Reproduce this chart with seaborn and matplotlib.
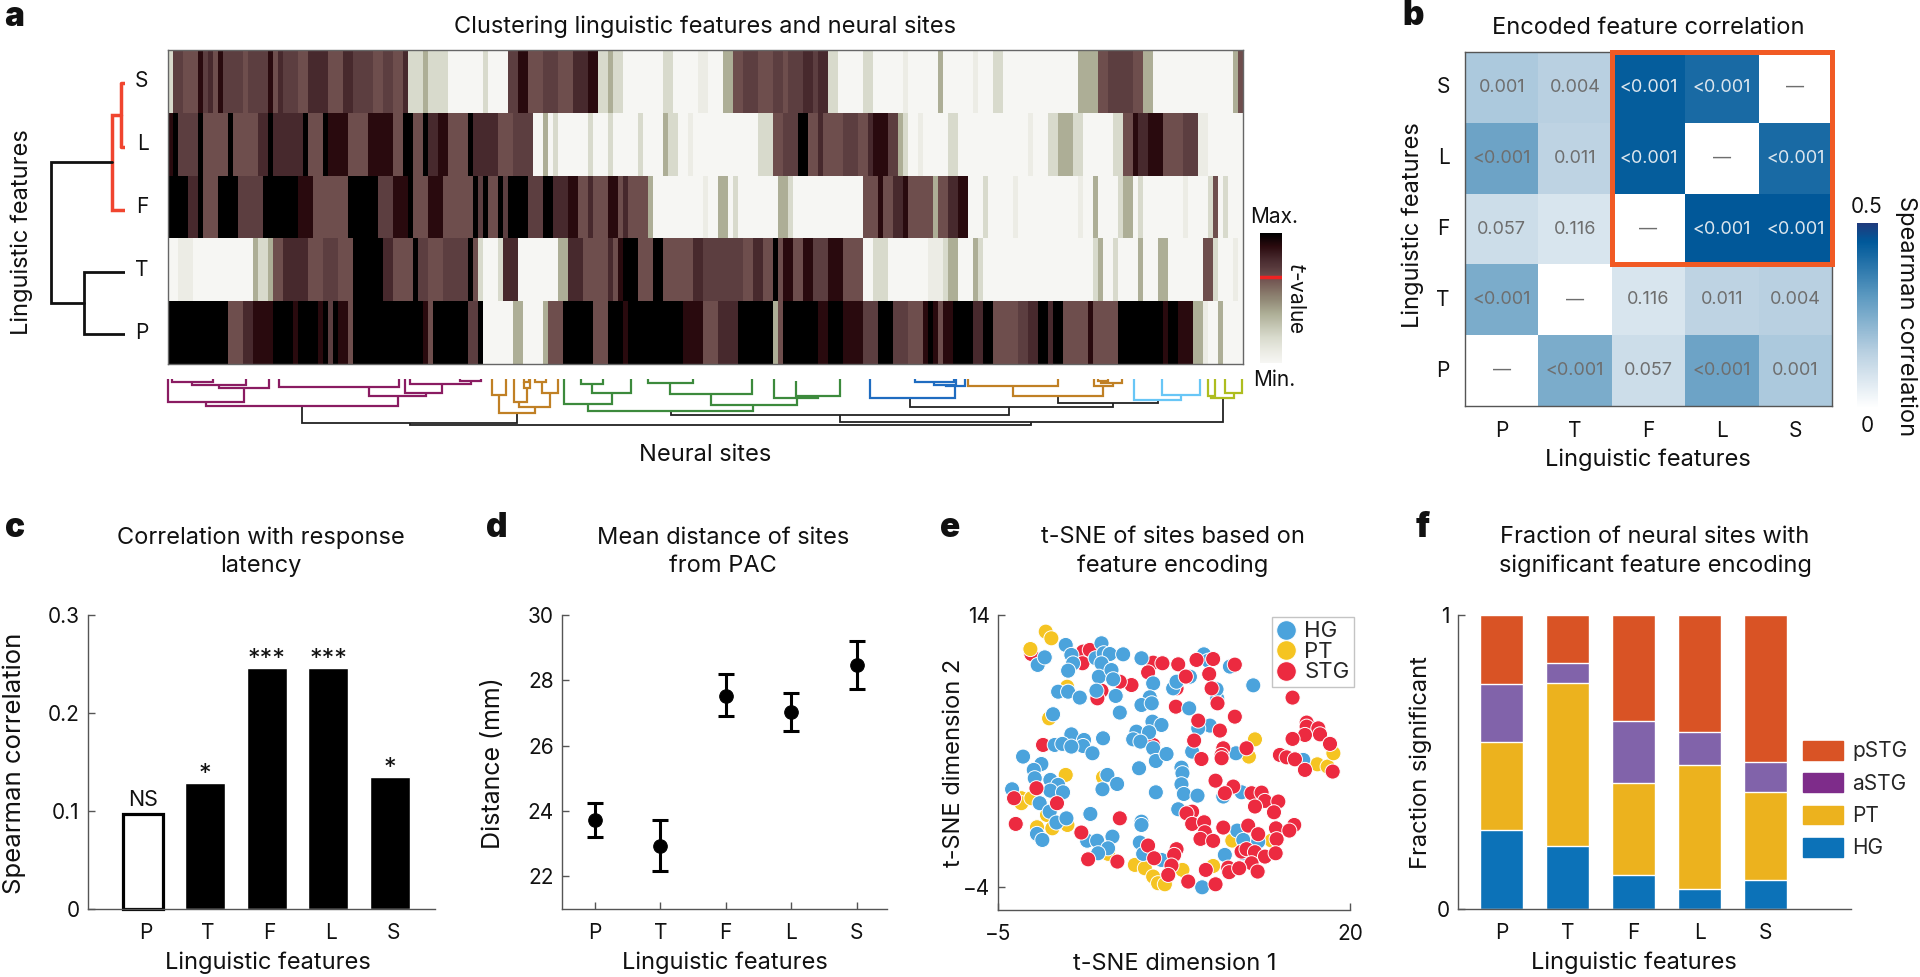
import numpy as np
import pandas as pd
import matplotlib as mpl
import matplotlib.pyplot as plt
from matplotlib.colors import LinearSegmentedColormap
from matplotlib.patches import Patch, Rectangle
from matplotlib.transforms import ScaledTranslation
import seaborn as sns

W, H = 1920, 977
sns.set_theme(style="ticks")
plt.rcParams["font.family"] = ["Inter", "DejaVu Sans"]
plt.rcParams["axes.edgecolor"] = "#555555"
plt.rcParams["axes.linewidth"] = 1.0
plt.rcParams["xtick.color"] = "#555555"
plt.rcParams["ytick.color"] = "#555555"
plt.rcParams["xtick.labelcolor"] = "#111111"
plt.rcParams["ytick.labelcolor"] = "#111111"

FS = 17
TICK_FS = 15
features = ["P", "T", "F", "L", "S"]
rows_a = ["S", "L", "F", "T", "P"]

##########################
# a: t-value per site, runs as <level code><last site>

level_codes = {"W": 0.0, "w": 0.08, "g": 0.2, "G": 0.38, "M": 0.66,
               "m": 0.72, "d": 0.8, "D": 0.9, "K": 1.0}

row_S = """g1 m3 M6 D7 m8 d9 M10 D11 m15 M16 m20 D21 M22 d23 m26 M28 d32 M35 d37 m41 M43 m45 M47 d48
g51 G52 g56 W63 g64 W68 m70 D72 M75 m78 M81 d84 D86 g88 G89 g91 W99 g101 W106 w108 W111 G113 M115 m118
M121 m123 M124 m127 d129 m130 d132 g134 W139 g141 W147 w148 W154 G155 W161 w162 W165 g167 W182 G186
M188 m190 m193 M195 G197 W213 G214 M215"""
row_L = """D1 K2 m4 m6 K7 M12 K13 M18 d20 K21 d27 K28 M31 K32 D36 M40 D45 M47 K49 M51 K52 d54 D56 M60 K61 d66
M69 m73 W75 G76 W77 g78 W84 g85 W88 g89 W94 g95 W99 G100 g102 W104 w105 W118 g121 M123 m126 K128 M130
d131 M135 m138 M140 d141 D144 m146 G147 g148 W150 w151 W156 g158 W172 w173 W176 g178 G181 g183 W189
g191 M193 D194 d196 D199 M203 m206 w208 W215"""
row_F = """K4 d6 K7 M10 K14 m19 K26 D29 M36 K42 m45 D48 K49 M52 D55 M61 K62 m63 K64 M66 K67 m68 K72 m75 K77 d80
D82 M84 d85 M88 D90 M91 d92 M96 G97 W107 w108 W110 G112 W113 g114 W122 G124 g125 W139 M142 D143 M145
d147 D148 M153 G154 M156 d158 D160 W163 g164 W169 w170 W182 w183 W185 G186 W190 g191 G193 W194 g195
W203 w204 W208 g209 M210 W211 g212 W215"""
row_T = """W2 w5 W17 G18 g20 G21 M23 d28 M31 m34 M37 K43 d45 M49 K50 m52 M55 m60 K61 M62 g63 W66 g67 d70 W78
G80 d83 M88 d89 M90 D91 K94 M97 K99 M105 d107 m115 M117 d119 M121 K122 M123 D125 M127 D129 m132 D135
M139 W141 g144 W152 w155 g156 G158 W161 G162 g163 W185 g186 G187 W189 g190 W194 G195 W198 G200 W207
M209 g210 W213 w214 W215"""
row_P = """K12 M15 d17 D21 K25 D26 K30 D31 K32 m33 K34 D36 M37 K51 D52 M53 K60 m62 K63 W69 G71 W75 G76 M79 K85
M88 K91 D92 K103 D107 M110 d114 K121 G122 M123 K130 D132 K135 D139 m142 K145 m148 M151 D152 K153 D154
M155 D157 K161 d163 K165 M170 m172 d174 K176 d177 K179 M184 D185 M190 K199 D200 K202 D205 G207 w208
W210 G211 W215"""

# site dendrogram links: left site, right site, left height, right height, join height
links_maroon = [(0.7, 8.9, 0, 0, 2.7), (4.7, 15.6, 2.7, 0, 6), (10.1, 20.1, 6, 0, 9.3), (0, 15.1, 0, 9.3, 23.3),
                (22.1, 46.2, 0, 0, 8), (40.2, 51.5, 8, 14.3, 17.3), (47.4, 54.7, 0, 5.3, 14.3),
                (48.3, 60.5, 0, 2, 5.3), (58.4, 62.5, 0, 0, 2), (7.5, 45.9, 23.3, 17.3, 26.7)]
links_ochre = [(64.7, 67.5, 0, 0, 16), (71.2, 72.2, 0, 0, 2.7), (71.1, 72.3, 2.7, 0, 9.3), (69.1, 71.7, 0, 9.3, 22.7),
               (73.4, 75.5, 0, 0, 2.7), (74.7, 78, 2.7, 0, 14.3), (70.2, 76.4, 22.7, 14.3, 27.7),
               (66.2, 73.4, 16, 27.7, 34.3),
               (160, 178, 0, 0, 6.7), (186, 188, 0, 0, 2), (186.5, 190.7, 2, 0, 4.3), (185.2, 189, 0, 4.3, 7),
               (169, 187, 6.7, 7, 16.7)]
links_green = [(82.6, 87, 0, 0, 5.3), (84.7, 92.6, 5.3, 0, 14.3), (79.1, 88.7, 0, 14.3, 25),
               (96, 104.9, 0, 0, 4.3), (100.4, 116.7, 4.3, 0, 15.3), (125.5, 134.4, 2, 0, 16.7),
               (121.1, 130, 0, 16.7, 19.3), (108.5, 125.7, 15.3, 19.3, 26), (83.9, 117, 25, 26, 32)]
links_blue = [(149.4, 157.1, 0, 0, 3.3), (153.2, 157.5, 3.3, 0, 5.5), (155.5, 159.3, 5.5, 0, 6.7),
              (140.3, 157.3, 0, 6.7, 18.7)]
links_sky = [(198.7, 206.3, 0, 0, 16), (193.1, 202.6, 0, 16, 21)]
links_lime = [(207.9, 209.4, 0, 0, 17), (211.4, 214.7, 0, 0, 13.7), (208.6, 213.1, 17, 13.7, 19.3)]
links_black = [(178, 197.9, 16.7, 21, 24.3), (148.3, 188.9, 18.7, 24.3, 27.7), (100.5, 168.2, 32, 27.7, 36),
               (134.3, 210.9, 36, 19.3, 42.7), (26.7, 69.7, 26.7, 34.3, 43.7), (48.3, 172.5, 43.7, 42.7, 46)]

##########################
# b: Spearman correlation and p-value text

corr_b = [[0.17, 0.15, 0.44, 0.41, 0.0],
          [0.275, 0.14, 0.44, 0.0, 0.41],
          [0.11, 0.085, 0.0, 0.45, 0.45],
          [0.25, 0.0, 0.085, 0.14, 0.15],
          [0.0, 0.25, 0.11, 0.275, 0.17]]
pvals_b = [["0.001", "0.004", "<0.001", "<0.001", "—"],
           ["<0.001", "0.011", "<0.001", "—", "<0.001"],
           ["0.057", "0.116", "—", "<0.001", "<0.001"],
           ["<0.001", "—", "0.116", "0.011", "0.004"],
           ["—", "<0.001", "0.057", "<0.001", "0.001"]]

##########################
# c, d, f

corr_latency = [0.097, 0.129, 0.246, 0.246, 0.135]
sig_latency = ["NS", "*", "***", "***", "*"]
dist_mean = [23.73, 22.92, 27.53, 27.04, 28.46]
dist_low = [23.2, 22.17, 26.9, 26.45, 27.73]
dist_high = [24.25, 23.72, 28.2, 27.6, 29.2]

frac_HG = [0.27, 0.213, 0.117, 0.068, 0.10]
frac_PT = [0.297, 0.556, 0.311, 0.422, 0.299]
frac_aSTG = [0.199, 0.069, 0.211, 0.112, 0.101]
frac_pSTG = [0.234, 0.162, 0.361, 0.398, 0.50]

##########################
# e: t-SNE coordinates

hg_x = [-0.19, 0.21, 0.33, -0.02, -2.18, -1.68, 1.94, 2.35, 2.51, 2.94, 2.35, 3.89, 2.16, 3.06, 3.18, 1.99, 5.19, 6.02,
        5.78, 5.19, 5.92, 3.36, 3.65, -0.73, -0.02, 0.81, 7.44, 7.68, 8.63, 9.62, 9.93, 11.47, 13.13, 10.57, 10.52, 8.58,
        -1.09, 5.97, 6.61, 4.83, 5.73, 4.60, 5.12, 0.21, 1.11, 1.04, 2.46, -0.97, -0.43, 0.21, 1.71, -3.22, -1.92, -2.46,
        -2.39, -1.28, -0.73, -1.28, -0.38, -4.0, -2.04, -1.33, -0.85, -0.14, 1.56, 2.42, 2.77, 3.46, 5.02, 6.02, 6.21, 6.97,
        8.79, 8.03, 8.10, 8.03, 8.2, 9.17, 6.21, 7.80, 10.05, 9.22, 11.9, 12.3, 11.0, 5.19, 5.19, -2.23, -1.85, 1.33, 2.04,
        3.13, 2.82, 2.11, 5.07, 5.31, 6.61, 11.11, 11.99, 12.42, 13.48, 9.5, 12.42, 16.68]
hg_y = [12.02, 11.36, 10.80, 10.32, 10.70, 11.20, 11.14, 12.13, 11.47, 11.42, 10.80, 11.40, 9.92, 10.36, 9.75, 9.00, 11.14,
        9.48, 8.56, 8.05, 8.16, 8.65, 7.55, 8.93, 8.93, 8.54, 9.15, 9.59, 9.92, 11.40, 10.98, 10.59, 9.35, 8.49, 9.09, 7.83,
        7.44, 6.95, 6.73, 6.29, 6.25, 5.78, 5.63, 6.11, 5.74, 5.34, 5.85, 5.41, 5.48, 5.30, 4.86, 4.64, 4.15, 3.76, 3.21,
        3.10, 2.77, 2.39, 2.28, 2.48, 1.56, 1.0, 0.28, 0.56, 0.85, 2.48, 3.43, 2.83, 3.87, 5.19, 4.35, 4.81, 4.97, 3.91,
        3.54, 2.81, 2.17, 2.06, 2.28, 1.16, 6.69, 6.51, 4.86, 2.28, 2.0, 0.34, 0.12, -0.47, -0.87, -0.92, -0.92, -0.65,
        -1.42, -1.75, -1.04, -1.79, -2.19, -1.86, -0.25, -0.87, -0.98, -4.0, -1.75, 4.42]
pt_x = [-1.61, -1.21, -2.7, -0.09, -1.37, 13.25, 12.82, -0.19, 2.46, -3.34, -3.34, -2.63, -1.52, -2.23, -1.14, -0.07,
        4.72, 5.43, 6.02, 6.37, 6.85, 8.1, 10.28, 11.64, 14.43, 2.82, 17.68, 18.41, 18.82]
pt_y = [12.9, 12.46, 11.75, 9.26, 7.17, 5.78, 4.64, 3.43, 3.27, 1.89, 1.56, 1.89, 0.78, -0.03, -0.1, 0.12,
        -2.52, -2.74, -3.29, -3.73, -3.8, -2.85, -2.59, -0.91, -0.91, -1.79, 4.13, 3.98, 4.86]
stg_x = [-2.63, 1.04, 1.52, 1.0, 6.02, 6.68, 5.66, 7.8, 9.1, 10.28, 8.34, 10.0, 11.82, 4.48, 3.65, 2.35, 2.06, 7.68, 10.17,
         7.63, 10.59, 15.92, 11.82, 9.22, 10.76, 16.92, 16.92, 17.75, 16.8, 17.87, 15.92, 18.58, -1.8, 8.93, 6.02, 11.0,
         10.88, 10.88, 12.65, 9.45, 15.02, 15.5, 16.09, 16.8, 18.77, 10.45, 11.71, 11.11, -2.27, -3.86, -0.81, 13.01, 13.72,
         13.96, 13.25, 14.91, 14.6, 8.79, 8.39, 3.65, 8.79, 9.64, -3.74, 11.0, 12.77, 9.69, 9.38, 10.28, 13.48, 14.74, 16.04,
         15.69, 14.79, 0.92, 5.66, 6.09, 7.68, 7.51, 7.32, 7.09, 1.4, 3.48, 12.3, 12.65, 13.25, 13.96, 14.72, 13.01, 11.35,
         11.42, 12.13, 13.44, 9.76, 8.51, 10.45]
stg_y = [11.42, 11.58, 11.69, 10.81, 10.85, 10.81, 10.21, 10.74, 11.03, 11.09, 9.93, 10.1, 10.72, 9.37, 9.59, 9.0, 8.49, 9.15,
         9.15, 7.94, 8.16, 8.54, 7.28, 7.02, 6.36, 6.89, 6.62, 6.51, 6.07, 6.11, 5.81, 5.48, 5.41, 5.7, 5.41, 5.19, 4.75,
         4.53, 5.19, 4.48, 4.75, 4.59, 4.46, 3.76, 3.65, 3.05, 2.66, 2.22, 2.55, 1.89, 1.56, 2.22, 2.26, 1.71, 1.34, 1.67,
         0.96, 1.0, 0.89, 0.56, 0.19, 0.3, 0.19, -0.05, 0.08, -0.36, -0.8, -0.93, -0.49, -0.1, 0.12, -0.25, -0.82, -0.38,
         -1.24, -2.08, -1.48, -1.86, -2.56, -3.18, -2.15, -2.3, -1.64, -1.48, -1.68, -1.97, -1.75, -2.41, -2.7, -3.0, -2.74,
         -2.96, -2.85, -3.62, -3.8]

##########################

fig = plt.figure(figsize=(W / 100, H / 100), dpi=100)
fig.patch.set_facecolor("white")


def add_ax(x0, y0, x1, y1):
    return fig.add_axes([x0 / W, 1 - y1 / H, (x1 - x0) / W, (y1 - y0) / H])


def put(x, y, s, size=FS, **kw):
    kw.setdefault("ha", "center")
    kw.setdefault("va", "center")
    kw.setdefault("color", "#111111")
    fig.text(x / W, 1 - y / H, s, fontsize=size, **kw)


def expand(runs):
    vals = []
    start = 0
    for t in runs.split():
        end = int(t[1:])
        vals += [level_codes[t[0]]] * (end - start)
        start = end
    return vals


def draw_links(ax, links, color, lw):
    for l, r, hl, hr, h in links:
        ax.plot([l, l, r, r], [hl, h, h, hr], color=color, lw=lw, clip_on=False,
                solid_joinstyle="miter", solid_capstyle="butt")


# panel a
tvalue_cmap = LinearSegmentedColormap.from_list("tvalue", [
    (0, "#f6f6f3"), (0.08, "#ecece5"), (0.2, "#d8dacc"), (0.38, "#adae96"), (0.5, "#8f8573"),
    (0.66, "#6e4e4d"), (0.72, "#5c3e40"), (0.8, "#47292d"), (0.9, "#2a0a0e"), (1, "#000000")])
heat_a = pd.DataFrame([expand(r) for r in [row_S, row_L, row_F, row_T, row_P]], index=rows_a)
ax_a = add_ax(168, 50, 1243, 364)
cax_a = add_ax(1260, 233, 1282, 363)
sns.heatmap(heat_a, ax=ax_a, cmap=tvalue_cmap, vmin=0, vmax=1, xticklabels=False, yticklabels=True,
            cbar_ax=cax_a, rasterized=True)
for s in ax_a.spines.values():
    s.set_visible(True)
    s.set_color("#666666")
ax_a.set_ylabel("")
ax_a.tick_params(axis="y", length=2.5, direction="in", pad=14, labelsize=TICK_FS, labelrotation=0)
cax_a.set_yticks([])
cax_a.tick_params(length=0)
cax_a.axhline(0.66, color="#ee2222", lw=2.5)
ax_a.collections[0].colorbar.outline.set_visible(True)
ax_a.collections[0].colorbar.outline.set_edgecolor("#333333")

put(705, 27, "Clustering linguistic features and neural sites")
put(22, 232, "Linguistic features", rotation=90)
put(1274, 217, "Max.", size=TICK_FS)
put(1274, 380, "Min.", size=TICK_FS)
put(1296, 298, "$\\mathit{t}$-value", size=TICK_FS, rotation=270)
put(705, 455, "Neural sites")

# feature dendrogram on the left
ax_rd = add_ax(40, 50, 125, 364)
ax_rd.set_xlim(85, 0)
ax_rd.set_ylim(5, 0)
ax_rd.axis("off")
link_red = "#f0452f"
ax_rd.plot([4.5, 4.5], [0.52, 1.55], color=link_red, lw=2.5, solid_capstyle="butt")
ax_rd.plot([0, 4.5], [0.52, 0.52], color=link_red, lw=2.5)
ax_rd.plot([0, 4.5], [1.55, 1.55], color=link_red, lw=2.5)
ax_rd.plot([4.5, 13.4, 13.4, 0], [1.03, 1.03, 2.55, 2.55], color=link_red, lw=2.5, solid_joinstyle="miter")
ax_rd.plot([0, 41.5, 41.5, 0], [3.54, 3.54, 4.53, 4.53], color="#111111", lw=2, solid_joinstyle="miter")
ax_rd.plot([13.4, 74, 74, 41.5], [1.79, 1.79, 4.03, 4.03], color="#111111", lw=2, solid_joinstyle="miter")

# site dendrogram below
ax_cd = add_ax(168, 379, 1243, 430)
ax_cd.set_xlim(0, 215)
ax_cd.set_ylim(51, 0)
ax_cd.axis("off")
draw_links(ax_cd, links_black, "#222222", 1.3)
draw_links(ax_cd, links_maroon, "#8a1c62", 1.6)
draw_links(ax_cd, links_ochre, "#c08025", 1.6)
draw_links(ax_cd, links_green, "#3c8a3c", 1.6)
draw_links(ax_cd, links_blue, "#1f6cc0", 1.6)
draw_links(ax_cd, links_sky, "#68c6f6", 1.6)
draw_links(ax_cd, links_lime, "#aebd1f", 1.6)

# panel b
corr_cmap = LinearSegmentedColormap.from_list("corr", [
    (0, "#ffffff"), (0.3, "#b9d0e1"), (0.6, "#5d9ac1"), (0.9, "#00599a"), (1, "#1f3a7c")])
ax_b = add_ax(1465, 52, 1832, 406)
cax_b = add_ax(1857, 223, 1878, 408)
sns.heatmap(pd.DataFrame(corr_b, index=rows_a, columns=features), ax=ax_b, cmap=corr_cmap, vmin=0, vmax=0.5,
            annot=np.array(pvals_b), fmt="", annot_kws={"size": 13}, cbar_ax=cax_b)
for t, v in zip(ax_b.texts, np.array(corr_b).ravel()):
    t.set_color("#dce6ee" if v > 0.35 else "#6e6e6e")
for s in ax_b.spines.values():
    s.set_visible(True)
    s.set_color("#555555")
ax_b.tick_params(length=0, labelsize=TICK_FS, labelrotation=0)
ax_b.tick_params(axis="x", pad=11)
ax_b.tick_params(axis="y", pad=11)
ax_b.add_patch(Rectangle((2, 0), 3, 3, fill=False, edgecolor="#f15a24", lw=3.6, clip_on=False, zorder=5,
                         joinstyle="miter"))
cax_b.set_yticks([])
cax_b.tick_params(length=0)
ax_b.collections[0].colorbar.outline.set_visible(True)
ax_b.collections[0].colorbar.outline.set_edgecolor("#333333")
put(1648, 28, "Encoded feature correlation")
put(1648, 460, "Linguistic features")
put(1413, 225, "Linguistic features", rotation=90)
put(1867, 207, "0.5", size=TICK_FS)
put(1867, 426, "0", size=TICK_FS)
put(1906, 316, "Spearman correlation", rotation=270)


def clean_axis(ax):
    sns.despine(ax=ax)
    ax.set_xlabel("")
    ax.set_ylabel("")
    ax.tick_params(direction="in", length=5, width=1, labelsize=TICK_FS)
    ax.tick_params(axis="x", pad=10)
    ax.tick_params(axis="y", pad=6)


# panel c
ax_c = add_ax(88, 615, 435, 909)
sns.barplot(x=features, y=corr_latency, hue=features, palette=["white", "black", "black", "black", "black"],
            legend=False, width=0.65, ax=ax_c, order=features)
ax_c.patches[0].set_edgecolor("black")
ax_c.patches[0].set_linewidth(2.3)
ax_c.patches[0].set_clip_on(False)
ax_c.set_xlim(-0.89, 4.725)
ax_c.set_ylim(0, 0.3)
ax_c.set_yticks([0, 0.1, 0.2, 0.3], ["0", "0.1", "0.2", "0.3"])
clean_axis(ax_c)
for lab in ax_c.get_xticklabels():
    lab.set_transform(lab.get_transform() + ScaledTranslation(3 / 100, 0, fig.dpi_scale_trans))
for i, s in enumerate(sig_latency):
    ax_c.text(i, corr_latency[i] + (0.004 if s == "NS" else -0.003), s, ha="center", va="bottom",
              fontsize=TICK_FS + 0.5 if s == "NS" else FS + 1, color="#111111")
put(261, 538, "Correlation with response")
put(261, 566, "latency")
put(268, 963, "Linguistic features")
put(14, 763, "Spearman correlation", size=18.5, rotation=90)

# panel d
ax_d = add_ax(562, 615, 887, 909)
sns.scatterplot(x=features, y=dist_mean, color="black", s=95, edgecolor="black", ax=ax_d, zorder=3)
ax_d.errorbar(features, dist_mean,
              yerr=[np.array(dist_mean) - np.array(dist_low), np.array(dist_high) - np.array(dist_mean)],
              fmt="none", ecolor="black", elinewidth=2.2, capsize=5.5, capthick=2.2)
ax_d.set_xlim(-0.5, 4.46)
ax_d.set_ylim(21, 30)
ax_d.set_yticks([22, 24, 26, 28, 30])
clean_axis(ax_d)
put(723, 538, "Mean distance of sites")
put(723, 566, "from PAC")
put(725, 963, "Linguistic features")
put(494, 763, "Distance (mm)", size=18, rotation=90)

# panel e
df_hg = pd.DataFrame({"x": hg_x, "y": hg_y, "area": "HG"})
df_pt = pd.DataFrame({"x": pt_x, "y": pt_y, "area": "PT"})
df_stg = pd.DataFrame({"x": stg_x, "y": stg_y, "area": "STG"})
stg_over = (df_stg.x > 8) | (df_stg.y < 4)
df_e = pd.concat([df_stg[~stg_over], df_pt, df_hg, df_stg[stg_over]])
ax_e = add_ax(998, 615, 1350, 910)
sns.scatterplot(data=df_e, x="x", y="y", hue="area", hue_order=["HG", "PT", "STG"],
                palette={"HG": "#4ba3dc", "PT": "#f5c422", "STG": "#ec2a40"},
                s=118, edgecolor="white", linewidth=0.7, ax=ax_e, clip_on=False)
ax_e.set_xlim(-5, 20)
ax_e.set_ylim(-5.5, 14)
ax_e.set_xticks([-5, 20], ["−5", "20"])
ax_e.set_yticks([-4, 14], ["−4", "14"])
clean_axis(ax_e)
sns.move_legend(ax_e, "upper left", bbox_to_anchor=(1272 / W, 1 - 617 / H), bbox_transform=fig.transFigure,
                borderaxespad=0, frameon=True, fancybox=False, edgecolor="#c4c4c4", framealpha=1, title=None,
                fontsize=TICK_FS + 1, labelspacing=0.02, handlelength=0.9, handletextpad=0.35, borderpad=0.2,
                markerscale=1.3)
put(1173, 537, "t-SNE of sites based on")
put(1173, 566, "feature encoding")
put(1175, 964, "t-SNE dimension 1")
put(954, 763, "t-SNE dimension 2", rotation=90)

# panel f, stacked bars drawn from the tallest sum down
ax_f = add_ax(1458, 615, 1851, 909)
layers = [(frac_pSTG, "#d95325"), (frac_aSTG, "#8163aa"), (frac_PT, "#ecb21e"), (frac_HG, "#0c72b8")]
stack = np.cumsum([frac_HG, frac_PT, frac_aSTG, frac_pSTG], axis=0)[::-1]
for heights, (vals, col) in zip(stack, layers):
    sns.barplot(x=features, y=heights, color=col, width=0.656, saturation=1, ax=ax_f, order=features)
ax_f.set_xlim(-0.66, 5.29)
ax_f.set_ylim(0, 1)
ax_f.set_yticks([0, 1], ["0", "1"])
clean_axis(ax_f)
handles_f = [Patch(color="#d95325", label="pSTG"), Patch(color="#7e2c8a", label="aSTG"),
             Patch(color="#ecb21e", label="PT"), Patch(color="#0c72b8", label="HG")]
ax_f.legend(handles=handles_f, loc="upper left", bbox_to_anchor=(1803 / W, 1 - 741 / H), bbox_transform=fig.transFigure,
            frameon=False, borderaxespad=0, borderpad=0, handlelength=1.9, handleheight=1.0, labelspacing=0.57,
            handletextpad=0.45, fontsize=TICK_FS)
put(1655, 537, "Fraction of neural sites with")
put(1655, 566, "significant feature encoding")
put(1634, 963, "Linguistic features")
put(1421, 763, "Fraction significant", rotation=90)

# panel letters
for s, x, y in [("a", 14, 17), ("b", 1413, 16), ("c", 15, 528), ("d", 497, 528), ("e", 950, 528), ("f", 1423, 528)]:
    put(x, y, s, size=24, fontweight="black", family=["Inter", "DejaVu Sans"])

fig.savefig("out.png", dpi=100, facecolor="white")
